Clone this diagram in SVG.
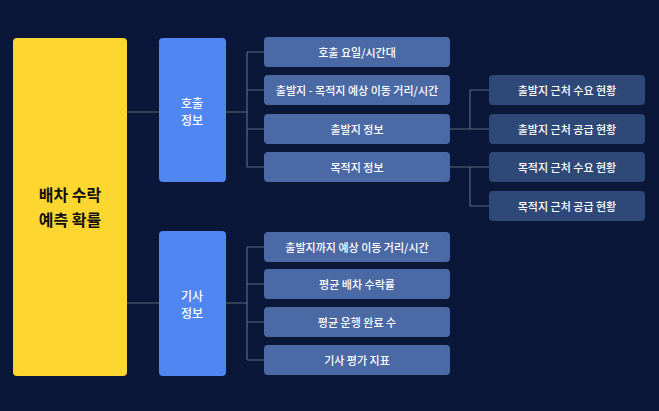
<svg xmlns="http://www.w3.org/2000/svg" width="659" height="411" viewBox="0 0 659 411">
<style>
text{font-family:"Noto Sans CJK KR",sans-serif;fill:#fff;text-anchor:middle;dominant-baseline:central;font-weight:500}
.t{font-size:11px}
.it{fill:#4b69a5}
.rt{fill:#2e4878}
.c{stroke:#5d6679;stroke-width:1.2;fill:none}
</style>
<rect width="659" height="411" fill="#0b1738"/>
<g id="connectors">
<path class="c" d="M127 112H159M127 303H159M226 112H247M226 303H247M247 52V167M247 52H264M247 90H264M247 129H264M247 167H264M247 247V360M247 247H264M247 284H264M247 322H264M247 360H264M450 129H470M450 167H470M470 90V129M470 90H489M470 129H489M470 167V206M470 167H489M470 206H489"/>
</g>
<g id="main"><rect x="13" y="38" width="114" height="338" rx="4" fill="#fdd630"/><text x="70" y="194" font-size="16" style="fill:#111;font-weight:bold">배차 수락</text><text x="70" y="219" font-size="16" style="fill:#111;font-weight:bold">예측 확률</text></g>
<g id="call"><rect x="159" y="38" width="67" height="144" rx="4" fill="#4f86f2"/><text x="192" y="102" font-size="12">호출</text><text x="192" y="119" font-size="12">정보</text></g>
<g id="driver"><rect x="159" y="231" width="67" height="145" rx="4" fill="#4f86f2"/><text x="192" y="295" font-size="12">기사</text><text x="192" y="312" font-size="12">정보</text></g>
<g id="a1"><rect class="it" x="264" y="37" width="186" height="30" rx="4"/><text class="t" x="357" y="52">호출 요일/시간대</text></g>
<g id="a2"><rect class="it" x="264" y="75" width="186" height="30" rx="4"/><text class="t" x="357" y="90">출발지 - 목적지 예상 이동 거리/시간</text></g>
<g id="a3"><rect class="it" x="264" y="114" width="186" height="30" rx="4"/><text class="t" x="357" y="129">출발지 정보</text></g>
<g id="a4"><rect class="it" x="264" y="152" width="186" height="30" rx="4"/><text class="t" x="357" y="167">목적지 정보</text></g>
<g id="b1"><rect class="it" x="264" y="232" width="186" height="30" rx="4"/><text class="t" x="357" y="247">출발지까지 예상 이동 거리/시간</text></g>
<g id="b2"><rect class="it" x="264" y="269" width="186" height="30" rx="4"/><text class="t" x="357" y="284">평균 배차 수락률</text></g>
<g id="b3"><rect class="it" x="264" y="307" width="186" height="30" rx="4"/><text class="t" x="357" y="322">평균 운행 완료 수</text></g>
<g id="b4"><rect class="it" x="264" y="345" width="186" height="30" rx="4"/><text class="t" x="357" y="360">기사 평가 지표</text></g>
<g id="r1"><rect class="rt" x="489" y="75" width="156" height="30" rx="4"/><text class="t" x="567" y="90">출발지 근처 수요 현황</text></g>
<g id="r2"><rect class="rt" x="489" y="114" width="156" height="30" rx="4"/><text class="t" x="567" y="129">출발지 근처 공급 현황</text></g>
<g id="r3"><rect class="rt" x="489" y="152" width="156" height="30" rx="4"/><text class="t" x="567" y="167">목적지 근처 수요 현황</text></g>
<g id="r4"><rect class="rt" x="489" y="191" width="156" height="30" rx="4"/><text class="t" x="567" y="206">목적지 근처 공급 현황</text></g>
</svg>
